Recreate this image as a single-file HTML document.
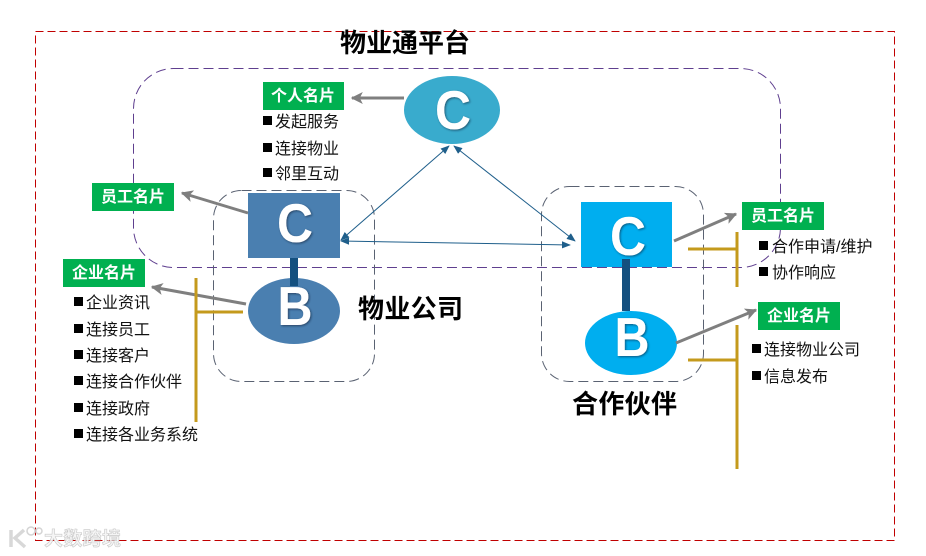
<!DOCTYPE html>
<html><head><meta charset="utf-8"><style>
html,body{margin:0;padding:0;background:#fff;width:926px;height:556px;overflow:hidden}
svg{display:block}
text{font-family:"Liberation Sans","Noto Sans CJK SC",sans-serif}
.t{font-size:16px;fill:#111}
.l{font-size:16px;font-weight:bold;fill:#fff;text-anchor:middle}
.h{font-size:26px;font-weight:bold;fill:#000}
.big{font-size:55px;font-weight:bold;fill:#fff;text-anchor:middle;filter:url(#s)}
</style></head><body>
<svg width="926" height="556" viewBox="0 0 926 556" xmlns="http://www.w3.org/2000/svg">
<defs>
<filter id="s" x="-30%" y="-30%" width="160%" height="160%"><feDropShadow dx="1" dy="1" stdDeviation="1" flood-color="#123" flood-opacity=".6"/></filter>
<marker id="g" viewBox="0 0 10 10" refX="9" refY="5" markerWidth="4" markerHeight="4" orient="auto"><path d="M0 0L10 5L0 10L2.5 5z" fill="#7f7f7f"/></marker>
<marker id="a" viewBox="0 0 10 10" refX="9" refY="5" markerWidth="9" markerHeight="9" orient="auto-start-reverse"><path d="M0 1L10 5L0 9z" fill="#1f5f8b"/></marker>
</defs>
<rect x="35.5" y="31.5" width="859" height="509" fill="none" stroke="#c00000" stroke-dasharray="8 4" stroke-width="1"/>
<rect x="133.5" y="68.5" width="647" height="199" rx="40" fill="none" stroke="#5f3f8f" stroke-dasharray="10 5" stroke-width="1"/>
<rect x="213.5" y="190.5" width="161" height="191" rx="28" fill="none" stroke="#5a6272" stroke-dasharray="10 5" stroke-width="1"/>
<rect x="541.5" y="186.5" width="162" height="195" rx="28" fill="none" stroke="#5a6272" stroke-dasharray="10 5" stroke-width="1"/>

<text class="h" x="340" y="52" textLength="130">物业通平台</text>
<text class="h" x="358" y="318" textLength="105">物业公司</text>
<text class="h" x="572" y="413" textLength="105">合作伙伴</text>

<ellipse cx="452" cy="110" rx="48" ry="34" fill="#39abcd"/>
<text class="big" x="453" y="129" textLength="36" lengthAdjust="spacingAndGlyphs">C</text>

<rect x="290" y="256" width="8" height="30" fill="#14507f"/>
<rect x="248" y="193" width="92" height="65" fill="#4a7fb0"/>
<text class="big" x="295" y="242" textLength="36" lengthAdjust="spacingAndGlyphs">C</text>
<ellipse cx="294" cy="311" rx="46" ry="33" fill="#4a7fb0"/>
<rect x="290" y="278" width="8" height="8" fill="#14507f"/>
<text class="big" x="295" y="325" textLength="35" lengthAdjust="spacingAndGlyphs">B</text>

<rect x="581" y="202" width="91" height="65" fill="#00aeef"/>
<text class="big" x="628" y="255" textLength="36" lengthAdjust="spacingAndGlyphs">C</text>
<rect x="622" y="259" width="8" height="52" fill="#14507f"/>
<ellipse cx="631" cy="343" rx="46" ry="32" fill="#00aeef"/>
<text class="big" x="632" y="356" textLength="35" lengthAdjust="spacingAndGlyphs">B</text>

<g stroke="#1f5f8b" stroke-width="1" fill="none">
<line x1="449" y1="146" x2="341" y2="240" marker-start="url(#a)" marker-end="url(#a)"/>
<line x1="454" y1="146" x2="575" y2="241" marker-start="url(#a)" marker-end="url(#a)"/>
<line x1="341" y1="241" x2="570" y2="245" marker-start="url(#a)" marker-end="url(#a)"/>
</g>

<g stroke="#7f7f7f" stroke-width="3" fill="none">
<line x1="404" y1="98" x2="352" y2="98" marker-end="url(#g)"/>
<line x1="248" y1="213" x2="182" y2="193" marker-end="url(#g)"/>
<line x1="246" y1="304" x2="152" y2="287" marker-end="url(#g)"/>
<line x1="674" y1="241" x2="736" y2="214" marker-end="url(#g)"/>
<line x1="676" y1="343" x2="756" y2="310" marker-end="url(#g)"/>
</g>

<g stroke="#c49a1c" stroke-width="3" fill="none">
<path d="M196 278V422M196 312H243"/>
<path d="M737 232V287M688 249H737"/>
<path d="M737 325V469M688 360H737"/>
</g>

<g fill="#00b050">
<rect x="263" y="82" width="81" height="28"/>
<rect x="92" y="183" width="82" height="28"/>
<rect x="63" y="259" width="82" height="28"/>
<rect x="742" y="202" width="82" height="28"/>
<rect x="758" y="302" width="82" height="28"/>
</g>
<text class="l" x="303" y="101">个人名片</text>
<text class="l" x="133" y="202">员工名片</text>
<text class="l" x="104" y="278">企业名片</text>
<text class="l" x="783" y="221">员工名片</text>
<text class="l" x="799" y="321">企业名片</text>

<g fill="#000">
<rect x="263" y="116" width="9" height="9"/><rect x="263" y="143" width="9" height="9"/><rect x="263" y="168" width="9" height="9"/>
<rect x="74" y="297" width="9" height="9"/><rect x="74" y="324" width="9" height="9"/><rect x="74" y="350" width="9" height="9"/><rect x="74" y="376" width="9" height="9"/><rect x="74" y="403" width="9" height="9"/><rect x="74" y="429" width="9" height="9"/>
<rect x="759" y="241" width="9" height="9"/><rect x="759" y="267" width="9" height="9"/>
<rect x="752" y="344" width="9" height="9"/><rect x="752" y="371" width="9" height="9"/>
</g>
<text class="t" x="275" y="127">发起服务</text>
<text class="t" x="275" y="154">连接物业</text>
<text class="t" x="275" y="179">邻里互动</text>
<text class="t" x="86" y="308">企业资讯</text>
<text class="t" x="86" y="335">连接员工</text>
<text class="t" x="86" y="361">连接客户</text>
<text class="t" x="86" y="387">连接合作伙伴</text>
<text class="t" x="86" y="414">连接政府</text>
<text class="t" x="86" y="440">连接各业务系统</text>
<text class="t" x="772" y="252">合作申请/维护</text>
<text class="t" x="772" y="278">协作响应</text>
<text class="t" x="764" y="355">连接物业公司</text>
<text class="t" x="764" y="382">信息发布</text>

<g opacity=".9">
<path d="M11 530V547M24 530L15 538L25 547" stroke="#d4d4d4" stroke-width="3.5" fill="none"/>
<circle cx="31" cy="531" r="4" fill="#fff" stroke="#d0d0d0" stroke-width="1.5"/>
<circle cx="39" cy="531" r="3" fill="#fff" stroke="#d0d0d0" stroke-width="1.5"/>
<text x="44" y="545" font-size="19" font-weight="bold" fill="#f4f4f4" stroke="#c4c4c4" stroke-width=".6" textLength="77">大数跨境</text>
</g>
</svg>
</body></html>
